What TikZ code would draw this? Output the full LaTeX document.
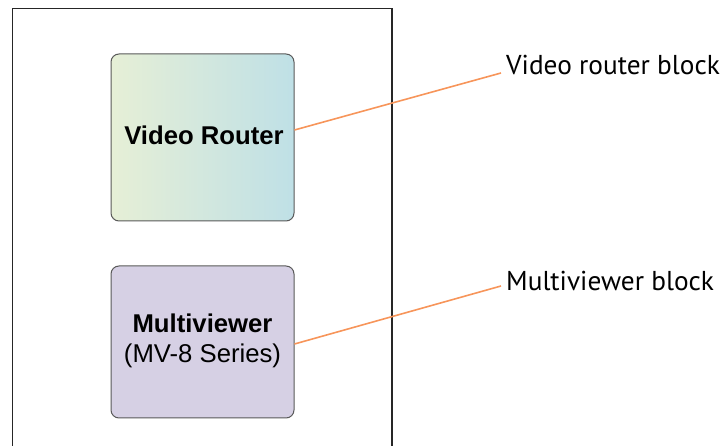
\documentclass[tikz,border=0pt]{standalone}
\usepackage{fontspec}
\setmainfont{Liberation Sans}
\newfontfamily\labelfont{PT Sans}
\begin{document}
\begin{tikzpicture}[x=1pt,y=-1pt,
  blockbox/.style={draw=black!65,line width=1pt,rounded corners=8pt,minimum width=183pt,inner sep=0pt},
  blocktext/.style={anchor=base,inner sep=0pt,font=\fontsize{25.7}{30}\selectfont},
  calllabel/.style={anchor=base west,inner sep=0pt,font=\labelfont\fontsize{27.3}{32}\selectfont}
]
\definecolor{vrleft}{HTML}{E6EFD6}
\definecolor{vrmid}{HTML}{CFE8E2}
\definecolor{vrright}{HTML}{BFE0E6}
\definecolor{mvfill}{HTML}{D6D0E4}
\definecolor{leadcol}{HTML}{F7955A}
\useasboundingbox (0,0) rectangle (724,446);
\clip (0,0) rectangle (724,446);
% outer frame
\draw[line width=1.6pt,black!85] (12.5,450) -- (12.5,8.5) -- (392,8.5) -- (392,450);
% blocks
\node[blockbox,minimum height=167pt,left color=vrleft,middle color=vrmid,right color=vrright] (vr) at (202.5,137.5) {};
\node[blocktext,font=\bfseries\fontsize{25.7}{30}\selectfont] (vrt) at (204,145) {Video Router};
\node[blockbox,minimum height=152pt,fill=mvfill] (mv) at (202.5,342) {};
\node[blocktext,font=\bfseries\fontsize{25.7}{30}\selectfont] (mvt1) at (202.5,333) {Multiviewer};
\node[blocktext] (mvt2) at (202.5,363) {(MV-8 Series)};
% labels
\node[calllabel] (lvr) at (506,75) {Video router block};
\node[calllabel] (lmv) at (506,291) {Multiviewer block};
\coordinate (vrs) at (vr.east |- 0,130);
\coordinate (vre) at (501,73);
\coordinate (mvs) at (mv.east |- 0,344);
\coordinate (mve) at (501,286);
\draw[line width=1.6pt,leadcol] (vrs) -- (vre);
\draw[line width=1.6pt,leadcol] (mvs) -- (mve);
\end{tikzpicture}
\end{document}
